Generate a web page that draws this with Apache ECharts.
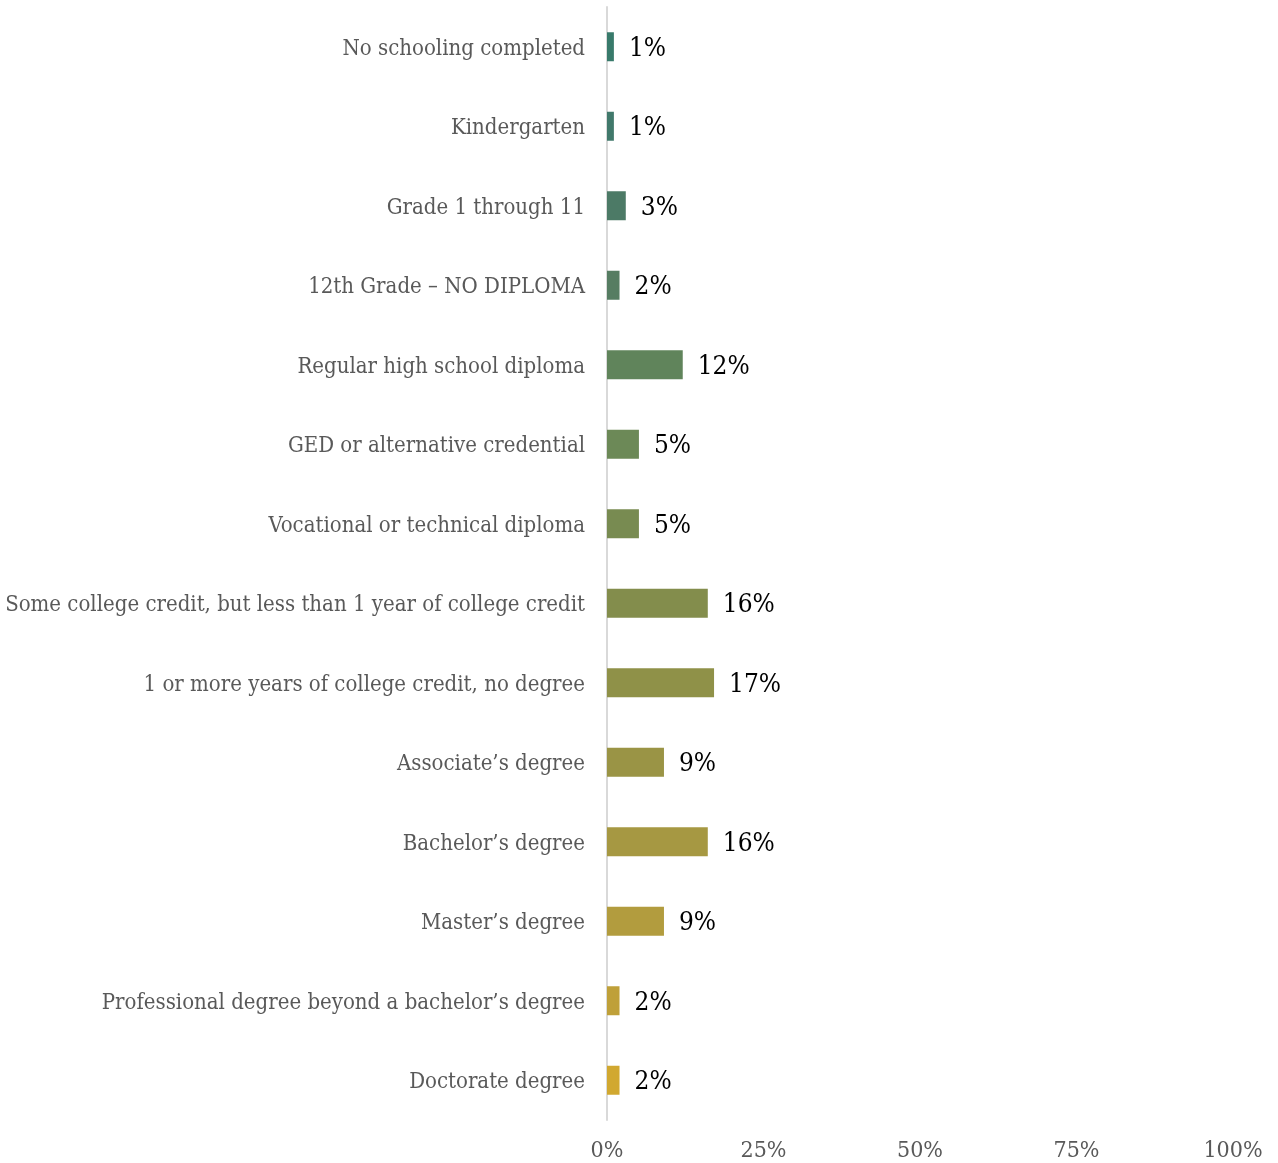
<!DOCTYPE html>
<html>
<head>
<meta charset="utf-8">
<script src="https://cdn.jsdelivr.net/npm/echarts@6/dist/echarts.min.js"></script>
<style>html,body{margin:0;padding:0;background:#fff}#c{width:1278px;height:1163px}</style>
</head>
<body>
<div id="c"></div>
<script>
const categories = [
  "No schooling completed",
  "Kindergarten",
  "Grade 1 through 11",
  "12th Grade – NO DIPLOMA",
  "Regular high school diploma",
  "GED or alternative credential",
  "Vocational or technical diploma",
  "Some college credit, but less than 1 year of college credit",
  "1 or more years of college credit, no degree",
  "Associate’s degree",
  "Bachelor’s degree",
  "Master’s degree",
  "Professional degree beyond a bachelor’s degree",
  "Doctorate degree"
];
const values = [1.1, 1.1, 3, 2, 12.1, 5.1, 5.1, 16.1, 17.1, 9.1, 16.1, 9.1, 2, 2];
const tickLabels = ["0%", "25%", "50%", "75%", "100%"];
const barColors = ["#387a6b","#41796b","#4c7a66","#567d62","#60845b","#6c8957","#788b51","#838d4c","#8f9148","#9a9445","#a69842","#b29c3e","#bfa039","#d1a830"];

const FONT = "'DejaVu Serif Condensed', 'DejaVu Serif'";
const chart = echarts.init(document.getElementById('c'), null, {renderer:'canvas'});
chart.setOption({
  animation: false,
  grid: {left: 607, right: 45, top: 7, bottom: 43, containLabel: false},
  xAxis: {
    type: 'value', min: 0, max: 100, interval: 25,
    axisLine: {show: false}, axisTick: {show: false}, splitLine: {show: false},
    axisLabel: {
      margin: 20, color: '#595959', fontFamily: FONT, fontSize: 23,
      formatter: (v) => tickLabels[Math.round(v / 25)]
    }
  },
  yAxis: {
    type: 'category', data: categories, inverse: true,
    axisLine: {show: true, lineStyle: {color: '#d9d9d9', width: 2}},
    axisTick: {show: false},
    axisLabel: {
      margin: 22, color: '#595959', fontFamily: FONT, fontSize: 22,
      formatter: (v) => '{a|' + v + '}',
      rich: {a: {color: '#595959', fontFamily: FONT, fontSize: 22, padding: [5, 0, 0, 0]}}
    }
  },
  series: [{
    type: 'bar',
    barWidth: 29,
    data: values.map((v, i) => ({value: v, itemStyle: {color: barColors[i]}})),
    label: {
      show: true, position: 'right', distance: 15, offset: [0, 2],
      color: '#000', fontFamily: FONT, fontSize: 26,
      formatter: (p) => Math.round(p.value) + '%'
    }
  }]
});
</script>
</body>
</html>
